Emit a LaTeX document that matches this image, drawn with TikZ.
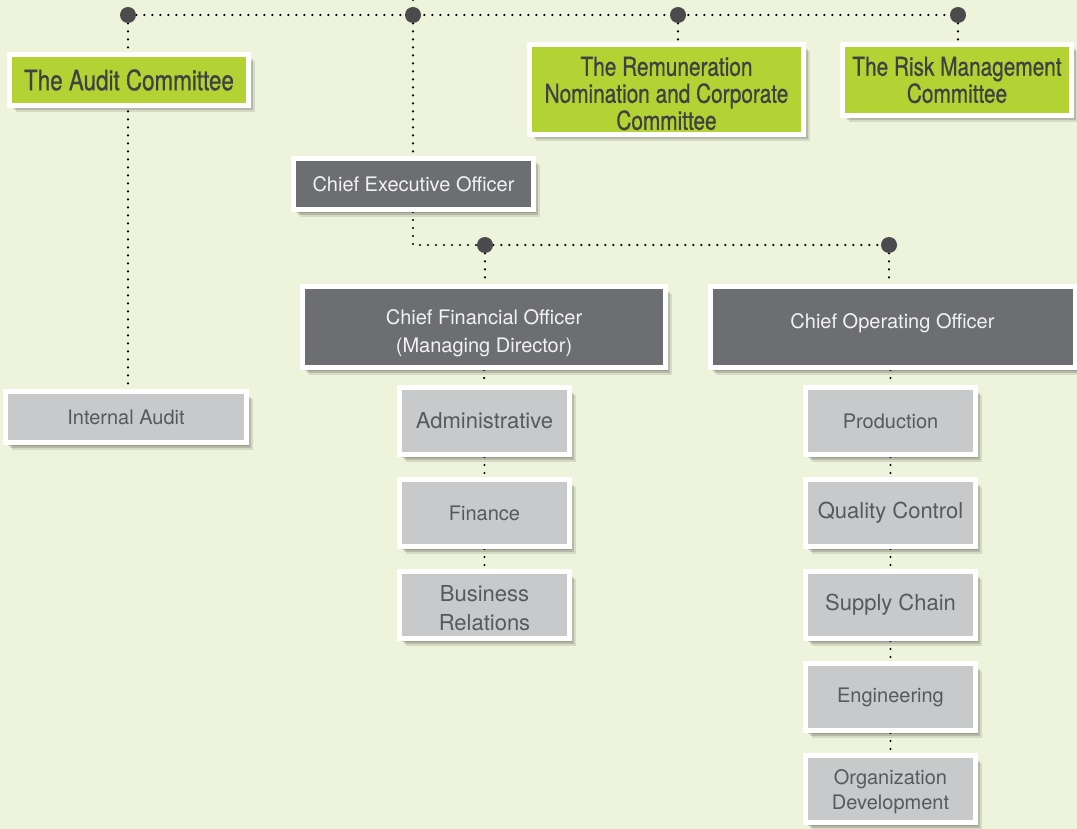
\documentclass[tikz,border=0pt]{standalone}
\usepackage{fontspec}
\setmainfont{TeX Gyre Heros}
\newfontfamily\condfont[FakeStretch=0.8,FakeBold=0.7]{TeX Gyre Heros}
\usetikzlibrary{positioning,shadows}
\definecolor{bgcol}{HTML}{EEF3DC}
\definecolor{commgreen}{HTML}{B3D334}
\definecolor{commtext}{HTML}{414042}
\definecolor{chiefgray}{HTML}{6D6E71}
\definecolor{chieftext}{HTML}{F2F2F2}
\definecolor{unitgray}{HTML}{C8C9CB}
\definecolor{unittext}{HTML}{58595B}
\definecolor{dotgray}{HTML}{4B4B4D}
\pgfdeclarelayer{bg}
\pgfdeclarelayer{wires}
\pgfsetlayers{bg,wires,main}
\begin{document}
\begin{tikzpicture}[x=0.5pt,y=-0.5pt,
  box/.style={draw=white,line width=2.5pt,align=center,inner sep=0pt,
    drop shadow={shadow xshift=3pt,shadow yshift=-3.5pt,fill=black,opacity=0.10},
    drop shadow={shadow xshift=2pt,shadow yshift=-2.5pt,fill=black,opacity=0.15},
    drop shadow={shadow xshift=1pt,shadow yshift=-1.5pt,fill=black,opacity=0.15}},
  comm/.style={box,fill=commgreen,text=commtext,font=\condfont\fontsize{13}{13.5}\selectfont},
  chief/.style={box,fill=chiefgray,text=chieftext,font=\fontsize{10}{14}\selectfont},
  unit/.style={box,fill=unitgray,text=unittext,minimum width=85pt,minimum height=33.5pt,
    font=\fontsize{10}{12.5}\selectfont},
  bigunit/.style={unit,font=\fontsize{11}{14.5}\selectfont},
  junction/.style={circle,fill=dotgray,inner sep=0pt,minimum size=8pt},
  wire/.style={line width=1.2pt,dash pattern=on 0pt off 4pt,line cap=round,draw=black}
]
\useasboundingbox (0,0) rectangle (1077,829);
\begin{pgfonlayer}{bg}
\fill[bgcol] (0,0) rectangle (1077,829);
\end{pgfonlayer}

\coordinate (top) at (413,0);
\node[junction] (j1) at (128,15) {};
\node[junction] (j2) at (413,15) {};
\node[junction] (j3) at (678,15) {};
\node[junction] (j4) at (958,15) {};
\node[junction] (k1) at (485,245) {};
\node[junction] (k2) at (889,245) {};

\node[comm,font=\condfont\fontsize{14}{16}\selectfont,minimum width=119.5pt,minimum height=25.5pt] (audit) at (129,80) {The Audit Committee};
\node[comm,minimum width=137pt,minimum height=45pt,text height=40.5pt] (remun) at (666.5,89.5) {The Remuneration\\Nomination and Corporate\\Committee};
\node[comm,minimum width=114.5pt,minimum height=35.5pt] (risk) at (957,80) {The Risk Management\\Committee};

\node[chief,minimum width=120pt,minimum height=25.5pt] (ceo) at (413.5,184) {Chief Executive Officer};
\node[chief,minimum width=181.5pt,minimum height=40.5pt,text height=27.3pt] (cfo) at (484,327) {Chief Financial Officer\\(Managing Director)};
\node[chief,minimum width=182.5pt,minimum height=40.5pt,text depth=6pt] (coo) at (892.5,327) {Chief Operating Officer};

\node[unit,minimum width=120.5pt,minimum height=25.5pt] (ia) at (126,417) {Internal Audit};
\node[bigunit] (adm) at (484.5,421) {Administrative};
\node[unit] (fin) at (484.5,513) {Finance};
\node[bigunit,text height=26pt] (bus) at (484.5,605) {Business\\Relations};
\node[unit] (prod) at (890.5,421) {Production};
\node[bigunit] (qc) at (890.5,513) {Quality Control};
\node[bigunit] (sup) at (890.5,605) {Supply Chain};
\node[unit] (eng) at (890.5,697) {Engineering};
\node[unit,text height=22.4pt] (org) at (890.5,789) {Organization\\Development};

\begin{pgfonlayer}{wires}
\draw[wire] (top) -- (j2);
\draw[wire] (j1) -- (j4);
\draw[wire] (j1) -- (j1 |- ia.north);
\draw[wire] (j2) -- (j2 |- ceo.north);
\draw[wire] (j3) -- (j3 |- remun.north);
\draw[wire] (j4) -- (j4 |- risk.north);
\draw[wire] (j2 |- ceo.south) |- (k1) -- (k2);
\draw[wire] (k1) -- (k1 |- cfo.north);
\draw[wire] (k2) -- (k2 |- coo.north);
\draw[wire] (cfo.south) -- (adm) -- (fin) -- (bus);
\draw[wire] (prod.north |- coo.south) -- (prod) -- (qc) -- (sup) -- (eng) -- (org);
\end{pgfonlayer}
\end{tikzpicture}
\end{document}
